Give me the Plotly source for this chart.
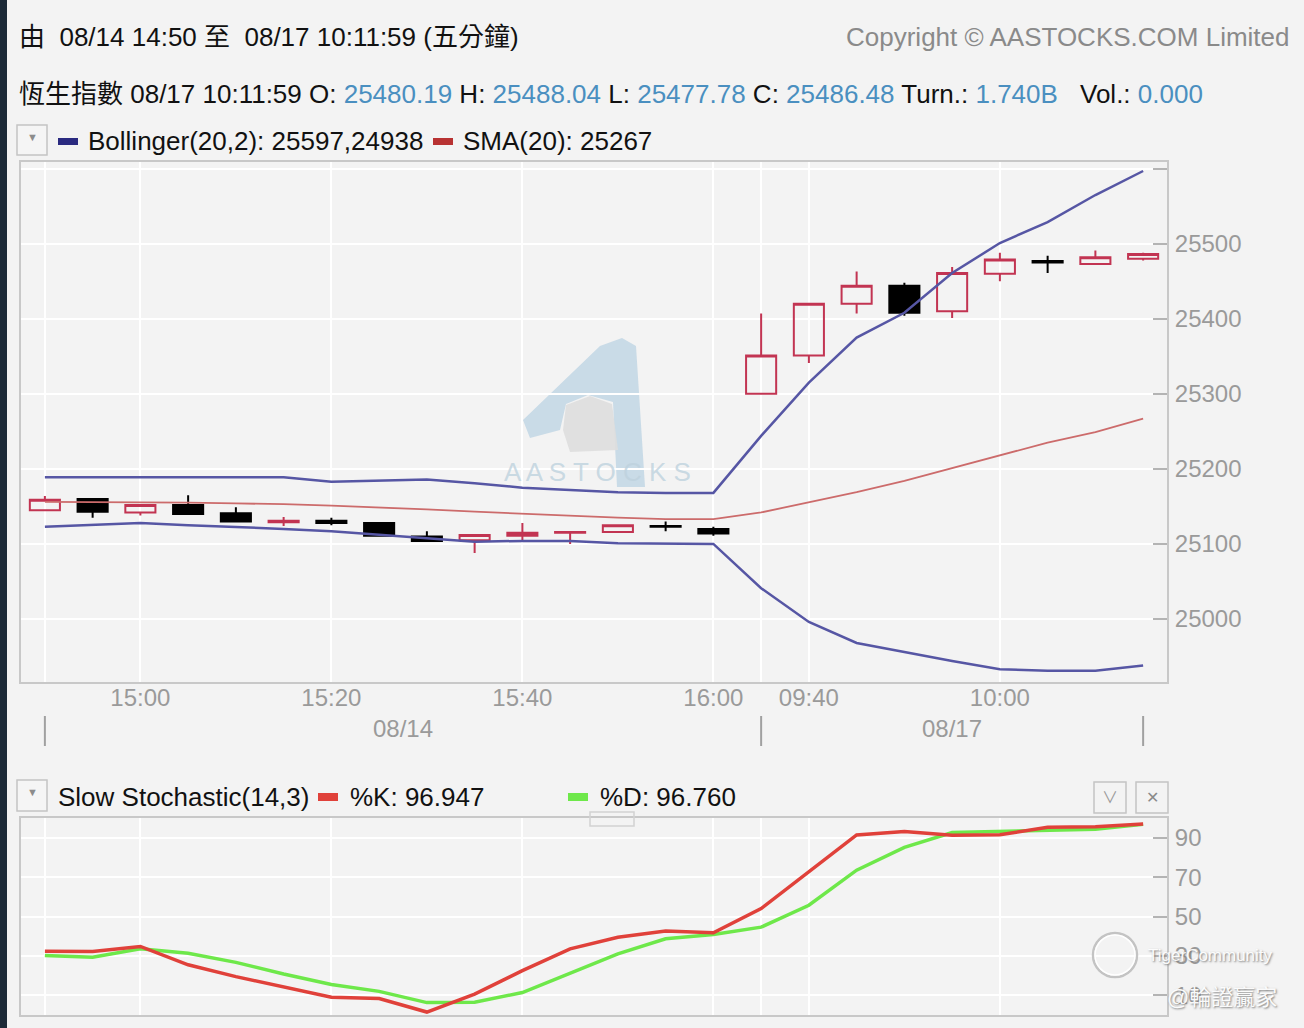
import plotly.graph_objects as go

# canvas size in pixels, positions below are given in pixels and converted to paper coords
W, H = 1304, 1028

# 5 minute bars, 08/14 afternoon and 08/17 morning
bar_times = ['14:50', '14:55', '15:00', '15:05', '15:10', '15:15', '15:20', '15:25',
             '15:30', '15:35', '15:40', '15:45', '15:50', '15:55', '16:00',
             '09:35', '09:40', '09:45', '09:50', '09:55', '10:00', '10:05', '10:10', '10:15']
opens = [25145, 25160, 25142, 25152, 25141, 25129, 25131, 25128, 25110, 25105, 25111, 25115,
         25116, 25124, 25120, 25300, 25351, 25420, 25444, 25410, 25460, 25477, 25473, 25480.19]
highs = [25164, 25160, 25152, 25165, 25149, 25136, 25135, 25129, 25117, 25112, 25128, 25117,
         25125, 25130, 25123, 25407, 25420, 25463, 25448, 25469, 25488, 25484, 25491, 25488.04]
lows = [25145, 25135, 25138, 25140, 25130, 25124, 25125, 25111, 25104, 25088, 25104, 25100,
        25116, 25117, 25111, 25300, 25341, 25407, 25404, 25401, 25450, 25461, 25473, 25477.78]
closes = [25159, 25143, 25152, 25140, 25130, 25131, 25128, 25111, 25104, 25112, 25115, 25116,
          25125, 25123, 25114, 25351, 25420, 25444, 25408, 25461, 25479, 25475, 25482, 25486.48]

# Bollinger(20,2) and SMA(20)
boll_upper = [25189, 25189, 25189, 25189, 25189, 25189, 25183, 25184, 25186, 25181, 25175, 25172,
              25169, 25168, 25168, 25244, 25315, 25375, 25408, 25461, 25501, 25529, 25565, 25597]
boll_lower = [25123, 25125, 25128, 25125, 25123, 25120, 25117, 25112, 25107, 25103, 25104, 25104,
              25101, 25101, 25100, 25041, 24996, 24968, 24956, 24944, 24933, 24931, 24931, 24938]
sma20 = [25156, 25156, 25155, 25155, 25154, 25153, 25151, 25149, 25146, 25143, 25140, 25137,
         25135, 25133, 25133, 25142, 25155, 25169, 25184, 25201, 25219, 25235, 25249, 25267]

# Slow Stochastic(14,3)
stoch_k = [32.4, 32.2, 34.8, 25.5, 19.5, 14.3, 9.0, 8.4, 1.5, 10.6, 22.5, 33.6,
           39.5, 42.6, 41.7, 54.0, 72.7, 91.4, 93.1, 91.2, 91.5, 95.3, 95.6, 96.947]
stoch_d = [30.2, 29.3, 33.6, 31.3, 26.7, 20.8, 15.5, 12.0, 6.3, 6.5, 11.4, 21.1,
           31.0, 38.7, 40.9, 44.6, 55.7, 73.5, 85.1, 92.6, 93.1, 93.6, 94.3, 96.76]

# axis ticks
grid_times = ['14:50', '15:00', '15:20', '15:40', '16:00', '09:35', '09:40', '10:00']
grid_text = ['', '15:00', '15:20', '15:40', '16:00', '', '09:40', '10:00']
price_ticks = [25000, 25100, 25200, 25300, 25400, 25500, 25600]
stoch_ticks = [10, 30, 50, 70, 90]
day_names = ['08/14', '08/17']
day_bounds = ['14:50', '09:35', '10:15']

FONT = 'Liberation Sans, Arial, Noto Sans CJK TC'
GREY = '#9a9a9a'
BLUE = '#4a8fc0'


def fx(p):
    return p / W


def fy(p):
    return 1 - p / H


fig = go.Figure()

fig.add_trace(go.Candlestick(x=bar_times, open=opens, high=highs, low=lows, close=closes,
                             increasing=dict(line=dict(color='#c23452', width=2), fillcolor='rgba(0,0,0,0)'),
                             decreasing=dict(line=dict(color='#000000', width=2), fillcolor='#000000'),
                             whiskerwidth=0, xaxis='x', yaxis='y'))
fig.add_trace(go.Scatter(x=bar_times, y=boll_upper, mode='lines', line=dict(color='#5656a4', width=2.5),
                         xaxis='x', yaxis='y'))
fig.add_trace(go.Scatter(x=bar_times, y=boll_lower, mode='lines', line=dict(color='#5656a4', width=2.5),
                         xaxis='x', yaxis='y'))
fig.add_trace(go.Scatter(x=bar_times, y=sma20, mode='lines', line=dict(color='#cc6b6b', width=1.8),
                         xaxis='x', yaxis='y'))
fig.add_trace(go.Scatter(x=bar_times, y=stoch_d, mode='lines', line=dict(color='#6ee84a', width=3.5),
                         xaxis='x2', yaxis='y2'))
fig.add_trace(go.Scatter(x=bar_times, y=stoch_k, mode='lines', line=dict(color='#e0413a', width=3.5),
                         xaxis='x2', yaxis='y2'))

xdom = [fx(21), fx(1167)]
xaxis_common = dict(type='category', categoryorder='array', categoryarray=bar_times,
                    range=[-0.5, 23.5], tickmode='array', tickvals=grid_times, ticktext=grid_text,
                    showgrid=True, gridcolor='#ffffff', gridwidth=2, ticks='',
                    showline=True, mirror=True, linecolor='#c8c8c8', linewidth=2,
                    tickfont=dict(family=FONT, size=24, color=GREY), domain=xdom,
                    rangeslider=dict(visible=False), fixedrange=True)
yaxis_common = dict(side='right', showgrid=True, gridcolor='#ffffff', gridwidth=2,
                    ticks='inside', ticklen=14, tickwidth=2, tickcolor='#b4b4b4',
                    showline=True, mirror=True, linecolor='#c8c8c8', linewidth=2,
                    tickfont=dict(family=FONT, size=24, color=GREY), zeroline=False,
                    ticklabelstandoff=1, fixedrange=True)

fig.update_layout(
    width=W, height=H, margin=dict(l=0, r=0, t=0, b=0),
    paper_bgcolor='#f3f3f3', plot_bgcolor='rgba(0,0,0,0)',
    showlegend=False, hovermode=False, boxgap=0.1, boxgroupgap=0.3,
    xaxis=dict(xaxis_common, anchor='y', ticklabelstandoff=-7),
    yaxis=dict(yaxis_common, anchor='x', domain=[fy(682), fy(162)], range=[24916, 25609],
               tickvals=price_ticks, ticktext=[str(v) if v < 25600 else '' for v in price_ticks]),
    xaxis2=dict(xaxis_common, anchor='y2', showticklabels=False),
    yaxis2=dict(yaxis_common, anchor='x2', domain=[fy(1015), fy(818)], range=[0, 100],
                tickvals=stoch_ticks),
)

shapes = []
annotations = []


def text(x, y, s, size=26, color='#111111', anchor='left', **kw):
    annotations.append(dict(x=fx(x), y=fy(y), xref='paper', yref='paper', text=s, showarrow=False,
                            xanchor=anchor, yanchor='middle',
                            font=dict(family=FONT, size=size, color=color, **kw)))


def rect(x0, y0, x1, y1, fill='rgba(0,0,0,0)', line='rgba(0,0,0,0)', lw=1.5, layer='above'):
    shapes.append(dict(type='rect', xref='paper', yref='paper', x0=fx(x0), x1=fx(x1),
                       y0=fy(y1), y1=fy(y0), fillcolor=fill, line=dict(color=line, width=lw), layer=layer))


# window frame strip at the left edge
rect(0, 0, 7, H, fill='#1d2a38', layer='above')

# header lines
text(17, 37, '由  08/14 14:50 至  08/17 10:11:59 (五分鐘)')
text(1292, 37, 'Copyright © AASTOCKS.COM Limited', color='#8a8a8a', anchor='right')
b = "<span style='color:%s'>%%s</span>" % BLUE
text(17, 94, '恆生指數 08/17 10:11:59 O: ' + b % '25480.19' + ' H: ' + b % '25488.04' + ' L: '
     + b % '25477.78' + ' C: ' + b % '25486.48' + ' Turn.: ' + b % '1.740B')
text(1078, 94, 'Vol.: ' + b % '0.000')

# main panel legend
rect(17, 125, 47, 155, fill='#f5f5f5', line='#c4c4c4')
text(32, 137, '▼', size=11, color='#8c8c8c', anchor='center')
rect(58, 138, 78, 145, fill='#2a2a80')
text(86, 141, 'Bollinger(20,2): 25597,24938')
rect(433, 138, 453, 145, fill='#b83232')
text(461, 141, 'SMA(20): 25267')

# stochastic panel legend and buttons
rect(17, 780, 47, 811, fill='#f5f5f5', line='#c4c4c4')
text(32, 792, '▼', size=11, color='#8c8c8c', anchor='center')
text(56, 797, 'Slow Stochastic(14,3)')
rect(318, 793, 338, 801, fill='#e0413a')
text(348, 797, '%K: 96.947')
rect(568, 793, 588, 801, fill='#6ee84a')
text(598, 797, '%D: 96.760')
rect(1094, 782, 1126, 813, fill='#f3f3f3', line='#c4c4c4')
text(1110, 797, '∨', size=16, color='#9a9a9a', anchor='center')
rect(1136, 782, 1168, 813, fill='#f3f3f3', line='#c4c4c4')
text(1152, 797, '✕', size=16, color='#8a8a8a', anchor='center')
rect(590, 812, 634, 826, line='#d2d2d2', lw=1.5)

# second row of the time axis: day names between separators
for i in range(len(day_names)):
    a = bar_times.index(day_bounds[i])
    z = bar_times.index(day_bounds[i + 1])
    annotations.append(dict(x=(a + z) / 2, y=fy(728), xref='x', yref='paper', text=day_names[i],
                            showarrow=False, xanchor='center', yanchor='middle',
                            font=dict(family=FONT, size=24, color=GREY)))
for d in day_bounds:
    shapes.append(dict(type='line', xref='x', yref='paper', x0=d, x1=d, y0=fy(746), y1=fy(716),
                       line=dict(color='#a0a0a0', width=2)))

# AASTOCKS watermark
logo = [(600, 346), (622, 338), (636, 346), (645, 487), (617, 487), (613, 402), (588, 395),
        (566, 404), (560, 430), (530, 438), (523, 420)]
path = 'M ' + ' L '.join('%.5f,%.5f' % (fx(px), fy(py)) for px, py in logo) + ' Z'
shapes.append(dict(type='path', xref='paper', yref='paper', path=path, fillcolor='rgba(190,212,228,0.8)',
                   line=dict(width=0), layer='below'))
cloud = [(566, 405), (590, 396), (612, 404), (618, 450), (570, 452), (563, 430)]
path = 'M ' + ' L '.join('%.5f,%.5f' % (fx(px), fy(py)) for px, py in cloud) + ' Z'
shapes.append(dict(type='path', xref='paper', yref='paper', path=path, fillcolor='rgba(222,222,222,0.9)',
                   line=dict(width=0), layer='below'))
text(597, 472, 'A A S T O C K S', size=26, color='rgba(190,210,222,0.8)', anchor='center')

# Tiger Community overlay
shapes.append(dict(type='circle', xref='paper', yref='paper', x0=fx(1093), x1=fx(1137), y0=fy(977), y1=fy(933),
                   line=dict(color='rgba(190,190,190,0.9)', width=2.5)))
shapes.append(dict(type='circle', xref='paper', yref='paper', x0=fx(1095), x1=fx(1135), y0=fy(975), y1=fy(935),
                   line=dict(color='rgba(255,255,255,0.95)', width=1.5)))
text(1146, 955, 'TigerCommunity', size=17, color='rgba(255,255,255,0.95)', shadow='1px 1px 2px #777777')
text(1165, 997, '@輪證贏家', size=22, color='rgba(255,255,255,0.95)', shadow='1px 1px 2px #777777')

fig.update_layout(shapes=shapes, annotations=annotations)

fig.write_html("out.html", config={'displayModeBar': False},
               post_script="document.body.style.margin='0';")
